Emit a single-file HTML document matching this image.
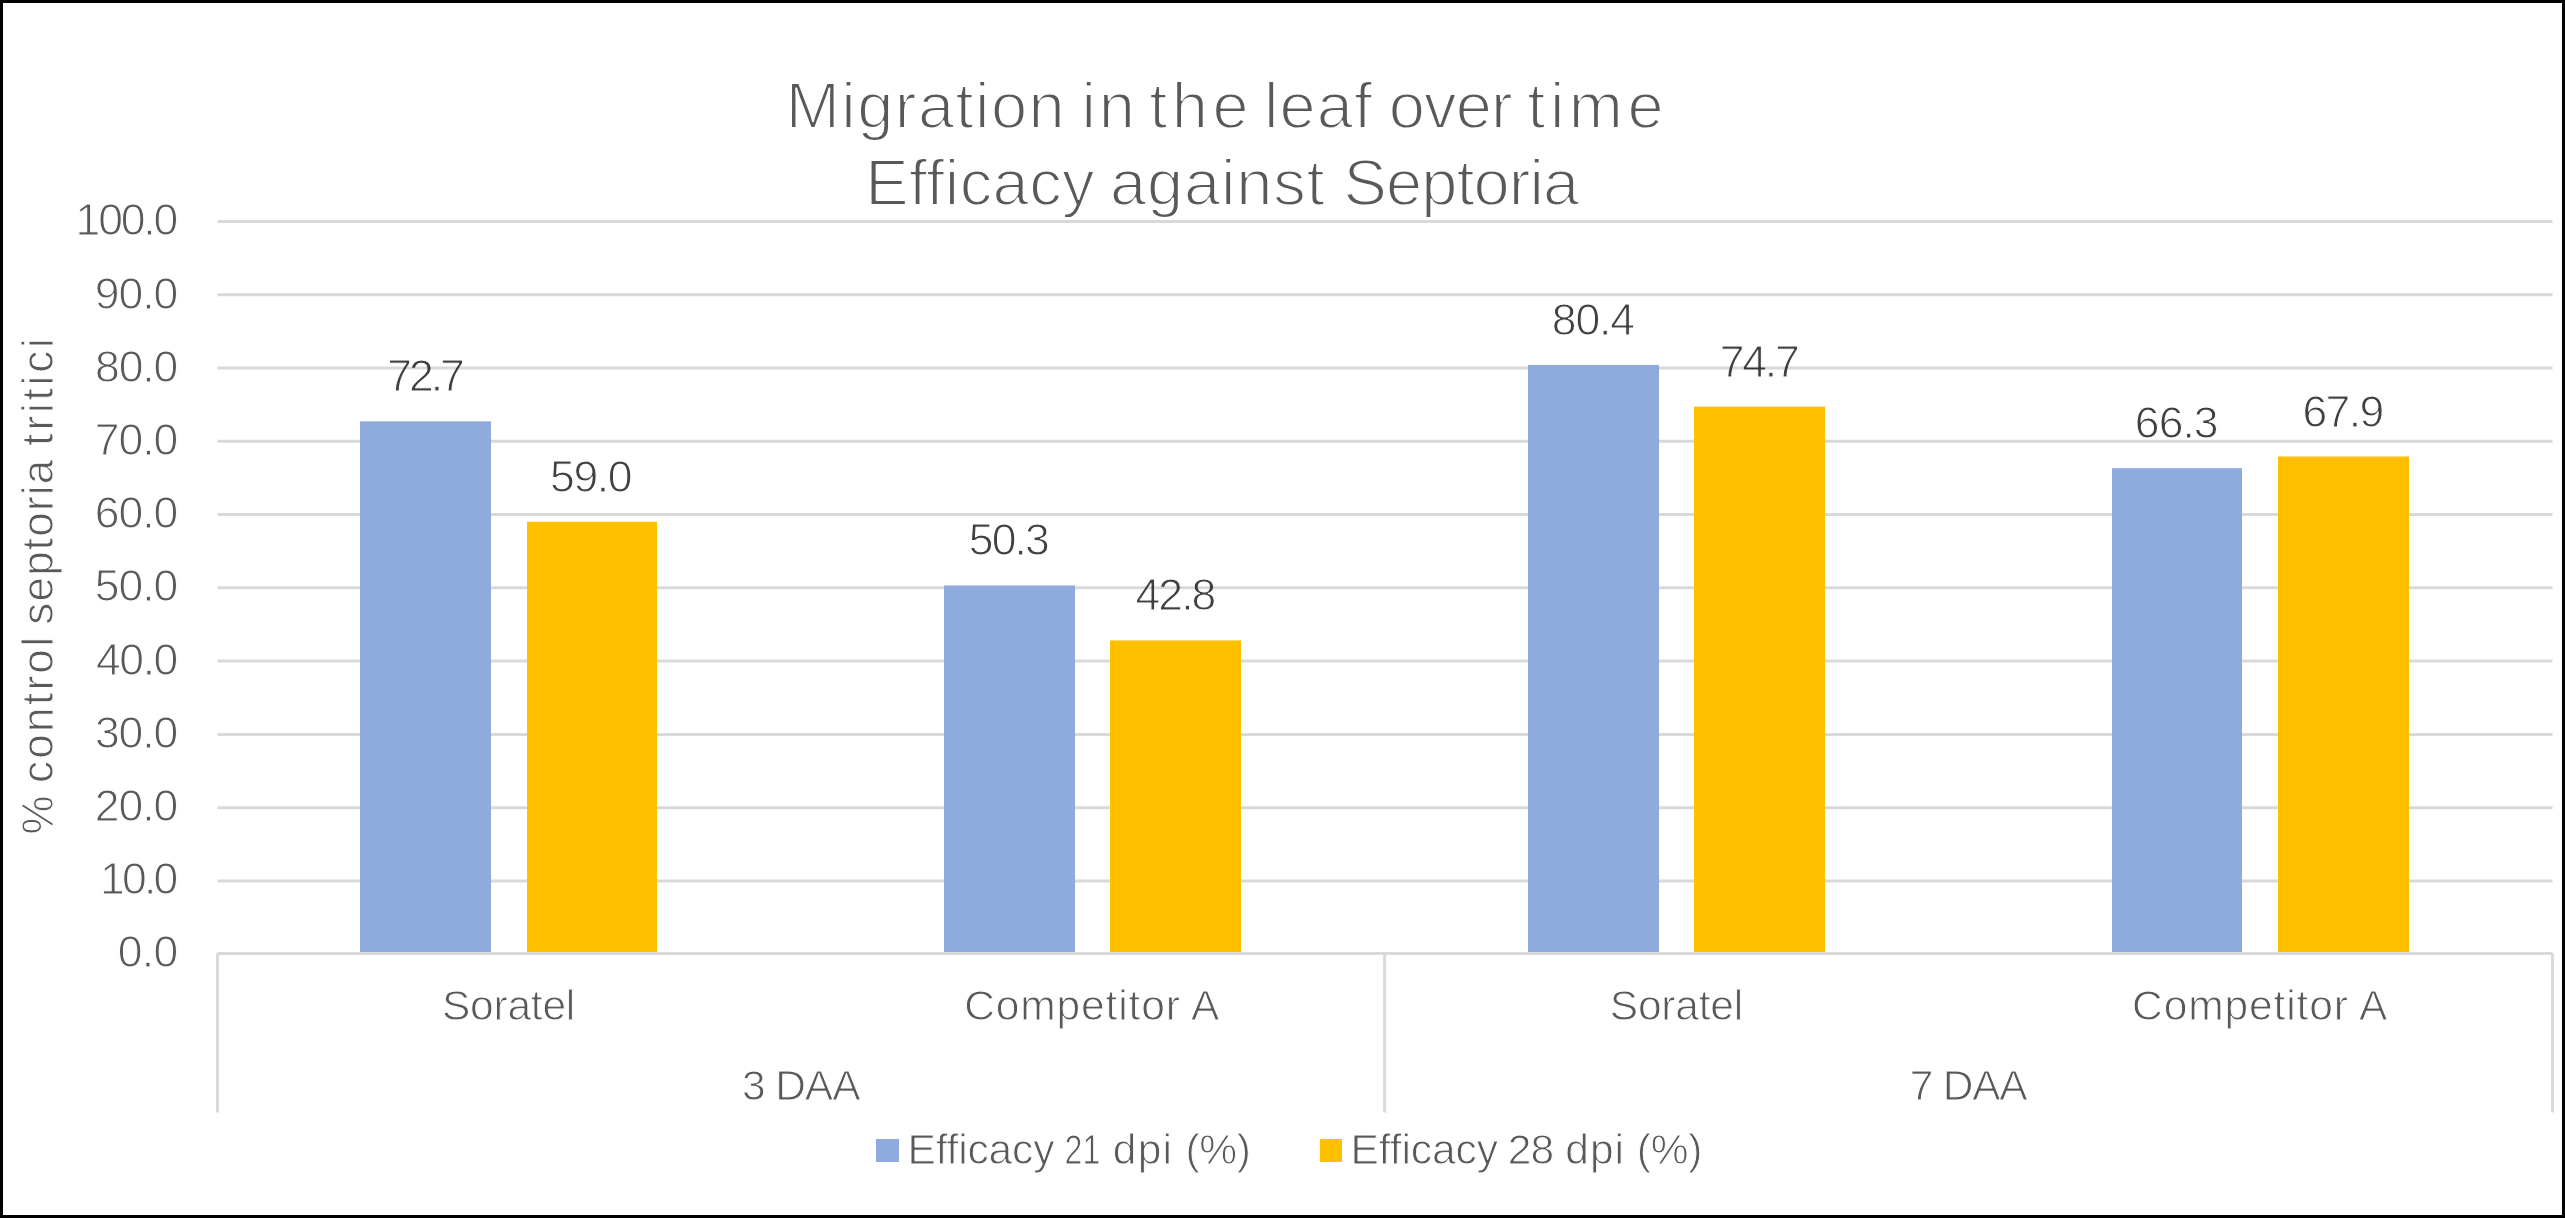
<!DOCTYPE html>
<html><head><meta charset="utf-8"><title>Migration in the leaf over time</title>
<style>
html,body{margin:0;padding:0;background:#fff;}
body{width:2565px;height:1218px;overflow:hidden;position:relative;}
svg{position:absolute;left:0;top:0;display:block;}
text{font-family:"Liberation Sans",sans-serif;stroke:#fff;stroke-linejoin:round;}
.t{font-size:65px;fill:#595959;stroke-width:1.9;}
.a{font-size:42.5px;fill:#595959;stroke-width:0.9;}
.r{font-size:44px;fill:#595959;stroke-width:0.9;}
.n{font-size:44.5px;fill:#595959;stroke-width:1.0;}
.d{font-size:44.5px;fill:#404040;stroke-width:1.0;mix-blend-mode:multiply;}
</style></head><body>
<svg width="2565" height="1218" viewBox="0 0 2565 1218">
<rect x="0" y="0" width="2565" height="1218" fill="#fff"/>
<g stroke="#D9D9D9" stroke-width="3" fill="none">
<line x1="217.50" y1="221.50" x2="2552.50" y2="221.50"/>
<line x1="217.50" y1="294.77" x2="2552.50" y2="294.77"/>
<line x1="217.50" y1="368.04" x2="2552.50" y2="368.04"/>
<line x1="217.50" y1="441.31" x2="2552.50" y2="441.31"/>
<line x1="217.50" y1="514.58" x2="2552.50" y2="514.58"/>
<line x1="217.50" y1="587.85" x2="2552.50" y2="587.85"/>
<line x1="217.50" y1="661.12" x2="2552.50" y2="661.12"/>
<line x1="217.50" y1="734.39" x2="2552.50" y2="734.39"/>
<line x1="217.50" y1="807.66" x2="2552.50" y2="807.66"/>
<line x1="217.50" y1="880.93" x2="2552.50" y2="880.93"/>
</g>
<rect x="360" y="421.33" width="131" height="531.67" fill="#8FAADC"/>
<rect x="527" y="521.71" width="130" height="431.29" fill="#FFC000"/>
<rect x="944" y="585.45" width="131" height="367.55" fill="#8FAADC"/>
<rect x="1110" y="640.40" width="131" height="312.60" fill="#FFC000"/>
<rect x="1528" y="364.91" width="131" height="588.09" fill="#8FAADC"/>
<rect x="1694" y="406.67" width="131" height="546.33" fill="#FFC000"/>
<rect x="2112" y="468.22" width="130" height="484.78" fill="#8FAADC"/>
<rect x="2278" y="456.50" width="131" height="496.50" fill="#FFC000"/>
<g stroke="#D9D9D9" stroke-width="3" fill="none">
<line x1="217.50" y1="953.50" x2="2552.50" y2="953.50"/>
<line x1="217.50" y1="953.50" x2="217.50" y2="1112.50"/>
<line x1="1384.70" y1="953.50" x2="1384.70" y2="1112.50"/>
<line x1="2552.50" y1="953.50" x2="2552.50" y2="1112.50"/>
</g>
<text class="t" x="785.77" y="128.00" textLength="278.88" lengthAdjust="spacing">Migration</text>
<text class="t" x="1081.38" y="128.00" textLength="53.43" lengthAdjust="spacing">in</text>
<text class="t" x="1149.31" y="128.00" textLength="99.28" lengthAdjust="spacing">the</text>
<text class="t" x="1263.99" y="128.00" textLength="108.01" lengthAdjust="spacing">leaf</text>
<text class="t" x="1388.70" y="128.00" textLength="123.92" lengthAdjust="spacing">over</text>
<text class="t" x="1527.36" y="128.00" textLength="136.26" lengthAdjust="spacing">time</text>
<text class="t" x="865.17" y="205.00" textLength="229.41" lengthAdjust="spacing">Efficacy</text>
<text class="t" x="1109.97" y="205.00" textLength="214.65" lengthAdjust="spacing">against</text>
<text class="t" x="1343.47" y="205.00" textLength="235.77" lengthAdjust="spacing">Septoria</text>
<text class="n" x="75.58" y="235.00" textLength="102.73" lengthAdjust="spacing">100.0</text>
<text class="n" x="94.73" y="309.00" textLength="83.58" lengthAdjust="spacing">90.0</text>
<text class="n" x="95.02" y="382.00" textLength="83.29" lengthAdjust="spacing">80.0</text>
<text class="n" x="94.63" y="455.00" textLength="83.67" lengthAdjust="spacing">70.0</text>
<text class="n" x="94.73" y="528.00" textLength="83.57" lengthAdjust="spacing">60.0</text>
<text class="n" x="94.74" y="601.00" textLength="83.57" lengthAdjust="spacing">50.0</text>
<text class="n" x="96.05" y="675.00" textLength="82.26" lengthAdjust="spacing">40.0</text>
<text class="n" x="94.92" y="748.00" textLength="83.39" lengthAdjust="spacing">30.0</text>
<text class="n" x="94.80" y="821.00" textLength="83.51" lengthAdjust="spacing">20.0</text>
<text class="n" x="100.00" y="894.00" textLength="78.31" lengthAdjust="spacing">10.0</text>
<text class="n" x="117.73" y="967.00" textLength="60.57" lengthAdjust="spacing">0.0</text>
<text class="d" x="387.32" y="391.00" textLength="77.38" lengthAdjust="spacing">72.7</text>
<text class="d" x="550.00" y="492.00" textLength="82.61" lengthAdjust="spacing">59.0</text>
<text class="d" x="968.75" y="555.00" textLength="81.07" lengthAdjust="spacing">50.3</text>
<text class="d" x="1135.50" y="610.00" textLength="80.86" lengthAdjust="spacing">42.8</text>
<text class="d" x="1551.78" y="335.00" textLength="83.22" lengthAdjust="spacing">80.4</text>
<text class="d" x="1719.75" y="377.00" textLength="79.94" lengthAdjust="spacing">74.7</text>
<text class="d" x="2134.86" y="438.00" textLength="83.68" lengthAdjust="spacing">66.3</text>
<text class="d" x="2302.39" y="427.00" textLength="81.90" lengthAdjust="spacing">67.9</text>
<text class="a" x="441.97" y="1020.00" textLength="133.29" lengthAdjust="spacing">Soratel</text>
<text class="a" x="964.26" y="1020.00" textLength="255.22" lengthAdjust="spacing">Competitor A</text>
<text class="a" x="1609.80" y="1020.00" textLength="133.31" lengthAdjust="spacing">Soratel</text>
<text class="a" x="2132.08" y="1020.00" textLength="255.40" lengthAdjust="spacing">Competitor A</text>
<text class="a" x="741.96" y="1100.00" textLength="118.53" lengthAdjust="spacing">3 DAA</text>
<text class="a" x="1909.81" y="1100.00" textLength="117.76" lengthAdjust="spacing">7 DAA</text>
<text class="a" x="907.55" y="1164.00" textLength="146.83" lengthAdjust="spacing">Efficacy</text>
<text class="a" x="1064.62" y="1164.00" textLength="35.74" lengthAdjust="spacingAndGlyphs">21</text>
<text class="a" x="1112.79" y="1164.00" textLength="59.24" lengthAdjust="spacing">dpi</text>
<text class="a" x="1185.42" y="1164.00" textLength="65.40" lengthAdjust="spacing">(%)</text>
<text class="a" x="1350.51" y="1164.00" textLength="147.49" lengthAdjust="spacing">Efficacy</text>
<text class="a" x="1507.87" y="1164.00" textLength="46.16" lengthAdjust="spacing">28</text>
<text class="a" x="1565.30" y="1164.00" textLength="58.67" lengthAdjust="spacing">dpi</text>
<text class="a" x="1636.73" y="1164.00" textLength="65.70" lengthAdjust="spacing">(%)</text>
<text class="r" transform="translate(53.40 834.57) rotate(-90)" x="0" y="0" textLength="39.30" lengthAdjust="spacing">%</text>
<text class="r" transform="translate(53.40 782.94) rotate(-90)" x="0" y="0" textLength="145.88" lengthAdjust="spacing">control</text>
<text class="r" transform="translate(53.40 624.75) rotate(-90)" x="0" y="0" textLength="165.05" lengthAdjust="spacing">septoria</text>
<text class="r" transform="translate(53.40 445.67) rotate(-90)" x="0" y="0" textLength="107.44" lengthAdjust="spacing">tritici</text>
<rect x="876" y="1139" width="23" height="23" fill="#8FAADC"/>
<rect x="1320" y="1139" width="22" height="23" fill="#FFC000"/>
<rect x="1.5" y="1.5" width="2562" height="1215" fill="none" stroke="#000" stroke-width="3"/>
</svg>
</body></html>
